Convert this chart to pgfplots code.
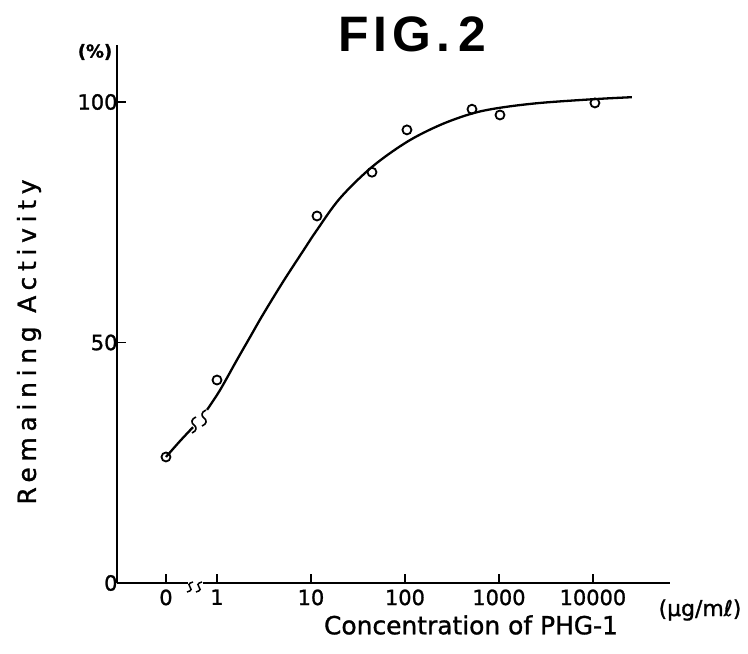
\documentclass[border=0pt]{standalone}
\usepackage{fontspec}
\setmainfont[FakeBold=1.2]{DejaVu Sans}
\newfontfamily\ylabfont[LetterSpace=23,FakeBold=1.2]{DejaVu Sans}
\newfontfamily\titlefont[LetterSpace=10]{Liberation Sans}
\usepackage{pgfplots}
\pgfplotsset{compat=1.18}

% curve, x = log10(conc); the "0" dose sits at -0.543
\pgfplotstableread{
u y
-0.543 26.2
-0.394 29.5
-0.255 32.4
}\curvelow
\pgfplotstableread{
u y
-0.106 36.0
0.032 40.1
0.213 46.4
0.351 51.1
0.489 55.8
0.702 62.6
0.915 69.0
1.064 73.4
1.309 80.0
1.649 86.5
2.021 91.7
2.372 95.2
2.713 97.6
3.011 98.8
3.436 99.8
4.021 100.6
4.415 101.0
}\curvehigh
\pgfplotstableread{
u y
-0.543 26.2
0.000 42.2
1.064 76.3
1.649 85.4
2.021 94.2
2.713 98.5
3.011 97.3
4.021 99.8
}\measured

\begin{document}
\begin{tikzpicture}
\useasboundingbox (0,0) rectangle (748bp,654bp);
\begin{axis}[
  at={(117bp,71bp)}, anchor=south west,
  scale only axis, width=553bp, height=538bp,
  xmin=-1.064, xmax=4.82, ymin=0, ymax=111.85,
  axis x line*=bottom, axis y line*=left,
  axis line style={line width=1.4bp, -},
  xtick={-0.543,0,1,2,3,4}, xticklabels={0,1,10,100,1000,10000},
  ytick={0,50,100},
  tick align=inside, major tick length=9bp,
  tick style={line width=1.3bp, black},
  tick label style={font=\fontsize{21}{21}\selectfont},
  xticklabel style={yshift=-3bp},
  yticklabel style={xshift=4bp},
  /pgf/number format/assume math mode=true,
  clip=false,
]
\addplot[black, line width=2.3bp, smooth, tension=0.55] table[x=u, y=y] {\curvelow};
\addplot[black, line width=2.3bp, smooth, tension=0.55] table[x=u, y=y] {\curvehigh};
\addplot[only marks, mark=o, mark size=4.5bp, mark options={line width=1.8bp, black}] table[x=u, y=y] {\measured};
% break marks on the curve
\draw[line width=1.6bp, shift={(axis cs:-0.245,32.85)}]
  (-2bp,-8bp) .. controls (3bp,-6bp) and (3bp,-2bp) .. (0bp,0bp) .. controls (-3bp,2bp) and (-3bp,6bp) .. (2bp,8bp);
\draw[line width=1.6bp, shift={(axis cs:-0.138,34.3)}]
  (-2bp,-8bp) .. controls (3bp,-6bp) and (3bp,-2bp) .. (0bp,0bp) .. controls (-3bp,2bp) and (-3bp,6bp) .. (2bp,8bp);
\end{axis}
% break in the x axis
\fill[white] (188bp,68bp) rectangle (203bp,74bp);
\draw[line width=1.5bp] (187bp,62bp) .. controls (192bp,63bp) and (192bp,66bp) .. (190bp,67bp) .. controls (188bp,68bp) and (188bp,71bp) .. (193bp,72bp);
\draw[line width=1.5bp] (196bp,62bp) .. controls (201bp,63bp) and (201bp,66bp) .. (199bp,67bp) .. controls (197bp,68bp) and (197bp,71bp) .. (202bp,72bp);
% texts
\node[font=\titlefont\bfseries\fontsize{50}{50}\selectfont] at (412bp,620bp) {FIG.\,2};
\node[font=\bfseries\fontsize{18}{18}\selectfont] at (95bp,602bp) {(\%)};
\node[rotate=90, font=\ylabfont\fontsize{25}{25}\selectfont] at (29bp,312bp) {Remaining Activity};
\node[font=\fontsize{25}{25}\selectfont] at (471bp,29bp) {Concentration of PHG-1};
\node[font=\fontsize{22}{22}\selectfont] at (700bp,44bp) {(µg/mℓ)};
\end{tikzpicture}
\end{document}
